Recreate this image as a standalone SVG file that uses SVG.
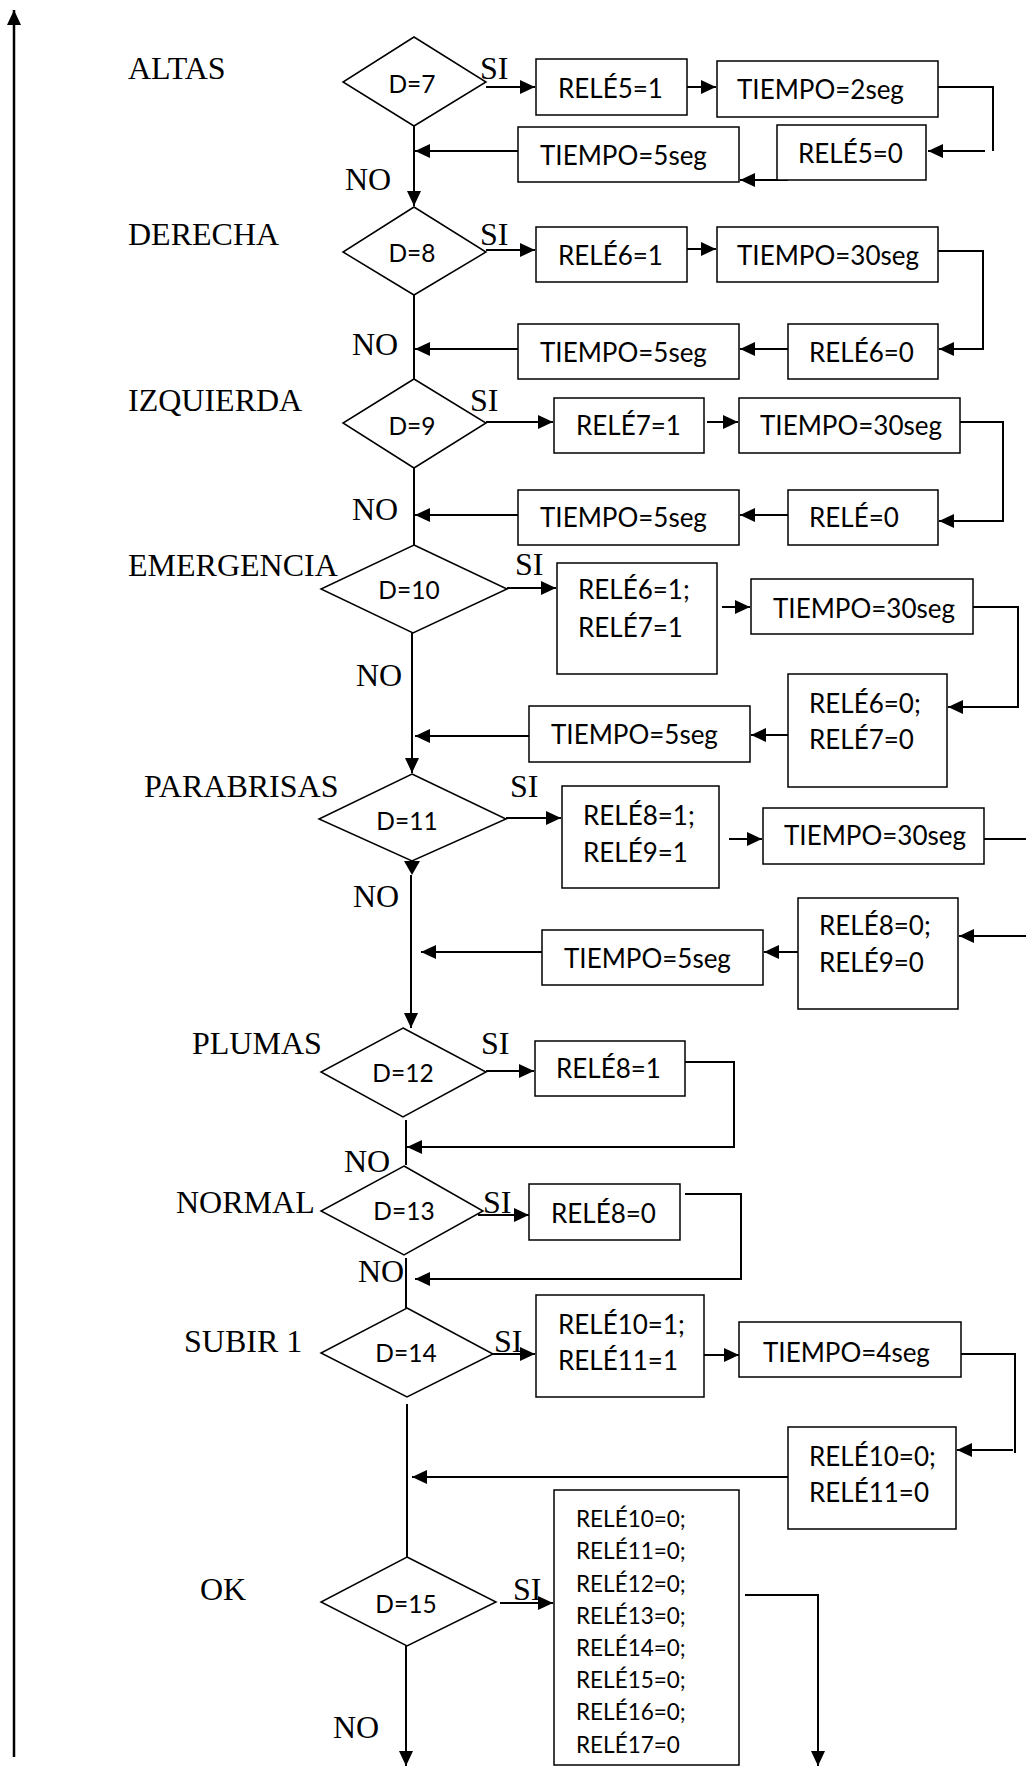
<svg xmlns="http://www.w3.org/2000/svg" width="1026" height="1767" viewBox="0 0 1026 1767">
<style>
.bg{fill:#fff}
.box{fill:#fff;stroke:#000;stroke-width:1.5}
.dia{fill:#fff;stroke:#000;stroke-width:1.5}
.c{fill:none;stroke:#000;stroke-width:2}
.a{marker-end:url(#ah)}
.lbl{font-family:"Liberation Serif","Times New Roman",serif;font-size:32px;fill:#000}
.t{font-family:Lato,Carlito,"Liberation Sans",sans-serif;font-size:26px;fill:#000}
.d{font-family:Lato,Carlito,"Liberation Sans",sans-serif;font-size:24.5px;fill:#000;text-anchor:middle}
.s{font-family:Lato,Carlito,"Liberation Sans",sans-serif;font-size:22.5px;fill:#000}
</style>
<defs>
<marker id="ah" markerUnits="userSpaceOnUse" markerWidth="15" markerHeight="14" refX="15" refY="7" orient="auto">
<path d="M0,0 L15,7 L0,14 z" fill="#000"/>
</marker>
</defs>
<rect class="bg" x="0" y="0" width="1026" height="1767"/>

<g id="connectors">
<path class="c a" d="M14,1757 V10" style="stroke-width:2.5"/>
<!-- row 1 -->
<path class="c a" d="M486,87 H535"/>
<path class="c a" d="M687,87 H716"/>
<path class="c" d="M938,87 H993 V151"/>
<path class="c a" d="M985,151 H928"/>
<path class="c a" d="M788,180 H740"/>
<path class="c a" d="M518,151 H415"/>
<path class="c a" d="M414,126 V206"/>
<!-- row 2 -->
<path class="c a" d="M486,250 H535"/>
<path class="c a" d="M687,249 H716"/>
<path class="c a" d="M938,251 H983 V349 H939"/>
<path class="c a" d="M788,349 H740"/>
<path class="c a" d="M518,349 H415"/>
<path class="c" d="M414,295 V379"/>
<!-- row 3 -->
<path class="c a" d="M486,422 H553"/>
<path class="c a" d="M707,422 H738"/>
<path class="c a" d="M960,422 H1003 V521 H939"/>
<path class="c a" d="M788,515 H740"/>
<path class="c a" d="M518,515 H415"/>
<path class="c" d="M414,468 V545"/>
<!-- row 4 -->
<path class="c a" d="M507,588 H556"/>
<path class="c a" d="M722,607 H750"/>
<path class="c a" d="M973,607 H1018 V707 H948"/>
<path class="c a" d="M788,735 H751"/>
<path class="c a" d="M529,736 H415"/>
<path class="c a" d="M412,633 V773"/>
<!-- row 5 -->
<path class="c a" d="M506,818 H561"/>
<path class="c a" d="M729,839 H762"/>
<path class="c" d="M984,839 H1026"/>
<path class="c a" d="M1026,936 H959"/>
<path class="c a" d="M798,952 H764"/>
<path class="c a" d="M542,952 H421"/>
<polygon points="404,861 420,861 412,875" fill="#000"/>
<path class="c a" d="M411,875 V1028"/>
<!-- row 6 -->
<path class="c a" d="M486,1071 H534"/>
<path class="c a" d="M680,1062 H734 V1147 H407"/>
<path class="c" d="M406,1120 V1165"/>
<!-- row 7 -->
<path class="c a" d="M478,1215 H529"/>
<path class="c a" d="M685,1194 H741 V1279 H415"/>
<path class="c" d="M406,1258 V1308"/>
<!-- row 8 -->
<path class="c a" d="M485,1354 H535"/>
<path class="c a" d="M695,1355 H739"/>
<path class="c" d="M961,1354 H1015 V1453"/>
<path class="c a" d="M1013,1450 H957"/>
<path class="c a" d="M788,1477 H412"/>
<path class="c" d="M407,1404 V1557"/>
<!-- row 9 -->
<path class="c a" d="M500,1603 H553"/>
<path class="c a" d="M745,1595 H818 V1766"/>
<path class="c a" d="M406,1646 V1766"/>
</g>

<g id="labels">
<text class="lbl" x="128" y="79">ALTAS</text>
<text class="lbl" x="128" y="245">DERECHA</text>
<text class="lbl" x="128" y="411">IZQUIERDA</text>
<text class="lbl" x="128" y="576">EMERGENCIA</text>
<text class="lbl" x="144" y="797">PARABRISAS</text>
<text class="lbl" x="192" y="1054">PLUMAS</text>
<text class="lbl" x="176" y="1213">NORMAL</text>
<text class="lbl" x="184" y="1352">SUBIR 1</text>
<text class="lbl" x="200" y="1600">OK</text>
<text class="lbl" x="480" y="79">SI</text>
<text class="lbl" x="480" y="245">SI</text>
<text class="lbl" x="470" y="411">SI</text>
<text class="lbl" x="515" y="575">SI</text>
<text class="lbl" x="510" y="797">SI</text>
<text class="lbl" x="481" y="1054">SI</text>
<text class="lbl" x="483" y="1213">SI</text>
<text class="lbl" x="494" y="1352">SI</text>
<text class="lbl" x="513" y="1600">SI</text>
<text class="lbl" x="345" y="190">NO</text>
<text class="lbl" x="352" y="355">NO</text>
<text class="lbl" x="352" y="520">NO</text>
<text class="lbl" x="356" y="686">NO</text>
<text class="lbl" x="353" y="907">NO</text>
<text class="lbl" x="344" y="1172">NO</text>
<text class="lbl" x="358" y="1282">NO</text>
<text class="lbl" x="333" y="1738">NO</text>
</g>

<g id="d7"><polygon class="dia" points="414,37 486,82 414,126 343,82"/><text class="d" x="412" y="93">D=7</text></g>
<g id="d8"><polygon class="dia" points="414,207 486,252 414,295 343,252"/><text class="d" x="412" y="262">D=8</text></g>
<g id="d9"><polygon class="dia" points="414,379 486,423 414,468 343,423"/><text class="d" x="412" y="435">D=9</text></g>
<g id="d10"><polygon class="dia" points="414,545 507,589 413,633 321,589"/><text class="d" x="409" y="599">D=10</text></g>
<g id="d11"><polygon class="dia" points="412,774 506,819 412,861 319,819"/><text class="d" x="407" y="830">D=11</text></g>
<g id="d12"><polygon class="dia" points="403,1028 486,1072 403,1117 321,1072"/><text class="d" x="403" y="1082">D=12</text></g>
<g id="d13"><polygon class="dia" points="404,1166 483,1211 404,1255 321,1211"/><text class="d" x="404" y="1220">D=13</text></g>
<g id="d14"><polygon class="dia" points="407,1308 493,1354 407,1397 321,1353"/><text class="d" x="406" y="1362">D=14</text></g>
<g id="d15"><polygon class="dia" points="407,1557 496,1602 407,1646 321,1602"/><text class="d" x="406" y="1613">D=15</text></g>

<g id="r5on"><rect class="box" x="536" y="59" width="151" height="56"/><text class="t" x="558" y="98">RELÉ5=1</text></g>
<g id="t2"><rect class="box" x="717" y="61" width="221" height="56"/><text class="t" x="737" y="99">TIEMPO=2seg</text></g>
<g id="t5a"><rect class="box" x="518" y="127" width="221" height="55"/><text class="t" x="540" y="165">TIEMPO=5seg</text></g>
<g id="r5off"><rect class="box" x="777" y="125" width="149" height="55"/><text class="t" x="798" y="163">RELÉ5=0</text></g>

<g id="r6on"><rect class="box" x="536" y="227" width="151" height="55"/><text class="t" x="558" y="265">RELÉ6=1</text></g>
<g id="t30a"><rect class="box" x="717" y="227" width="221" height="55"/><text class="t" x="737" y="265">TIEMPO=30seg</text></g>
<g id="t5b"><rect class="box" x="518" y="324" width="221" height="55"/><text class="t" x="540" y="362">TIEMPO=5seg</text></g>
<g id="r6off"><rect class="box" x="788" y="324" width="150" height="55"/><text class="t" x="809" y="362">RELÉ6=0</text></g>

<g id="r7on"><rect class="box" x="554" y="398" width="150" height="55"/><text class="t" x="576" y="435">RELÉ7=1</text></g>
<g id="t30b"><rect class="box" x="739" y="398" width="221" height="55"/><text class="t" x="760" y="435">TIEMPO=30seg</text></g>
<g id="t5c"><rect class="box" x="518" y="490" width="221" height="55"/><text class="t" x="540" y="527">TIEMPO=5seg</text></g>
<g id="r7off"><rect class="box" x="788" y="490" width="150" height="55"/><text class="t" x="809" y="527">RELÉ=0</text></g>

<g id="r67on"><rect class="box" x="557" y="563" width="160" height="111"/><text class="t" x="578" y="599">RELÉ6=1;</text><text class="t" x="578" y="637">RELÉ7=1</text></g>
<g id="t30c"><rect class="box" x="751" y="579" width="222" height="55"/><text class="t" x="773" y="618">TIEMPO=30seg</text></g>
<g id="r67off"><rect class="box" x="788" y="674" width="159" height="113"/><text class="t" x="809" y="713">RELÉ6=0;</text><text class="t" x="809" y="749">RELÉ7=0</text></g>
<g id="t5d"><rect class="box" x="529" y="706" width="221" height="56"/><text class="t" x="551" y="744">TIEMPO=5seg</text></g>

<g id="r89on"><rect class="box" x="562" y="786" width="157" height="102"/><text class="t" x="583" y="825">RELÉ8=1;</text><text class="t" x="583" y="862">RELÉ9=1</text></g>
<g id="t30d"><rect class="box" x="763" y="808" width="221" height="56"/><text class="t" x="784" y="845">TIEMPO=30seg</text></g>
<g id="r89off"><rect class="box" x="798" y="898" width="160" height="111"/><text class="t" x="819" y="935">RELÉ8=0;</text><text class="t" x="819" y="972">RELÉ9=0</text></g>
<g id="t5e"><rect class="box" x="542" y="930" width="221" height="55"/><text class="t" x="564" y="968">TIEMPO=5seg</text></g>

<g id="r8on"><rect class="box" x="535" y="1041" width="150" height="55"/><text class="t" x="556" y="1078">RELÉ8=1</text></g>
<g id="r8off"><rect class="box" x="529" y="1184" width="151" height="56"/><text class="t" x="551" y="1223">RELÉ8=0</text></g>

<g id="r1011on"><rect class="box" x="536" y="1295" width="168" height="102"/><text class="t" x="558" y="1334">RELÉ10=1;</text><text class="t" x="558" y="1370">RELÉ11=1</text></g>
<g id="t4"><rect class="box" x="739" y="1322" width="222" height="55"/><text class="t" x="763" y="1362">TIEMPO=4seg</text></g>
<g id="r1011off"><rect class="box" x="788" y="1427" width="168" height="102"/><text class="t" x="809" y="1466">RELÉ10=0;</text><text class="t" x="809" y="1502">RELÉ11=0</text></g>

<g id="reset"><rect class="box" x="554" y="1490" width="185" height="275"/>
<text class="s" x="576" y="1527">RELÉ10=0;</text>
<text class="s" x="576" y="1559">RELÉ11=0;</text>
<text class="s" x="576" y="1592">RELÉ12=0;</text>
<text class="s" x="576" y="1624">RELÉ13=0;</text>
<text class="s" x="576" y="1656">RELÉ14=0;</text>
<text class="s" x="576" y="1688">RELÉ15=0;</text>
<text class="s" x="576" y="1720">RELÉ16=0;</text>
<text class="s" x="576" y="1753">RELÉ17=0</text>
</g>
</svg>
